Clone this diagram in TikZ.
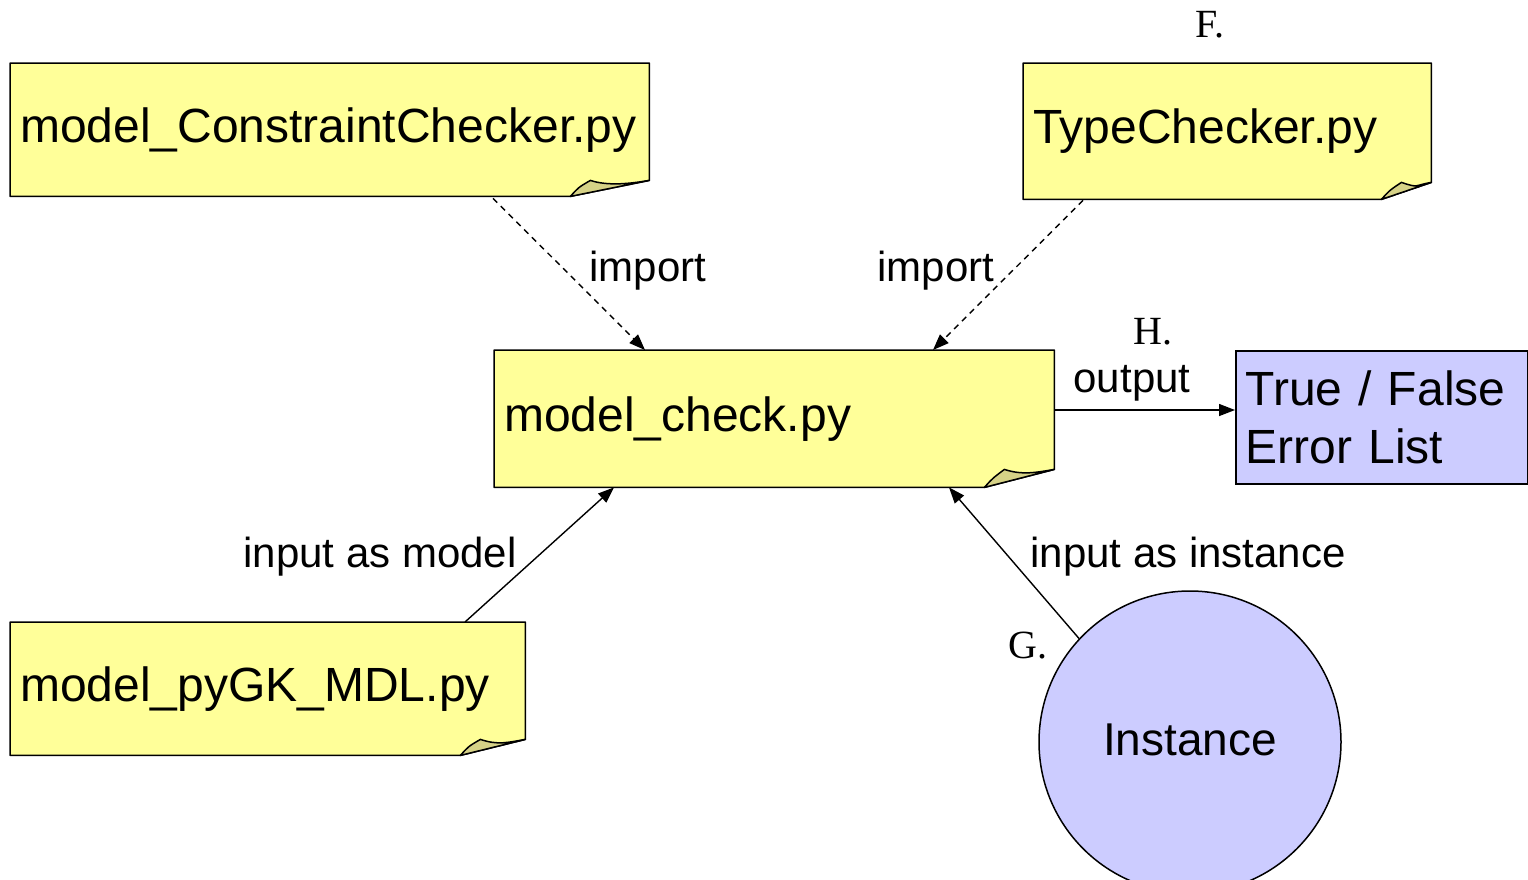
\documentclass[tikz,border=0pt]{standalone}
\usepackage{fontspec}
\setmainfont{Liberation Sans}
\newfontfamily\serifL{Liberation Serif}
\usetikzlibrary{arrows.meta,backgrounds,calc}
\definecolor{noteyellow}{RGB}{255,255,153}
\definecolor{notefoldc}{RGB}{214,210,135}
\definecolor{lavender}{RGB}{204,204,255}
\tikzset{
  notetext/.style={anchor=north west, inner xsep=10pt, inner ysep=0pt, align=left,
    font=\fontsize{48}{58}\selectfont},
  noteline/.style={draw=black, line width=1.5pt, line join=round},
  lbl/.style={font=\fontsize{42}{50}\selectfont, inner sep=0pt},
  letter/.style={font=\serifL\fontsize{40}{48}\selectfont, inner sep=0pt},
  link/.style={line width=1.4pt, -{Triangle[length=16pt,width=12pt]}},
  dlink/.style={link, dash pattern=on 6pt off 5pt},
}
\newcommand\drawnote[3]{%
  \coordinate (#1-B) at ($(#1.south east)+(-#2,0)$);
  \coordinate (#1-R) at ($(#1.south east)+(0,-#3)$);
  \coordinate (#1-P) at ($(#1.south east)+(-#2+20,-#3)$);
  \draw[noteline, fill=noteyellow] (#1.north west) -- (#1.north east) -- (#1-R) -- (#1-B) -- (#1.south west) -- cycle;
  \draw[noteline, fill=notefoldc] (#1-B) .. controls ($(#1-B)+(8,-9)$) .. (#1-P)
    .. controls ($(#1-P)+(18,6)$) and ($(#1-R)+(-18,3)$) .. (#1-R) -- cycle;
}
\begin{document}
\begin{tikzpicture}[x=1pt,y=-1pt]
\useasboundingbox (0,0) rectangle (1528,879);

\node[notetext, text width=619pt, minimum height=133pt] (cc) at (10,63) {model\_ConstraintChecker.py};
\node[notetext, text width=388pt, minimum height=136pt] (tc) at (1023,63) {TypeChecker.py};
\node[notetext, text width=540pt, minimum height=137pt] (mc) at (494,350) {model\_check.py};
\node[notetext, text width=495pt, minimum height=133pt] (gk) at (10,622) {model\_pyGK\_MDL.py};
\node[notetext, text width=272pt, minimum height=133pt, draw=black, line width=1.5pt, fill=lavender] (tf) at (1235,350) {True / False\\Error List};
\node[circle, draw=black, line width=1.5pt, fill=lavender, minimum size=302pt, inner sep=0pt,
  font=\fontsize{46}{54}\selectfont] (inst) at (1190,742) {\raisebox{4pt}{Instance}};

\begin{scope}[on background layer]
  \drawnote{cc}{79}{16}
  \drawnote{tc}{50}{17}
  \drawnote{mc}{70}{18}
  \drawnote{gk}{65}{16}
\end{scope}

\draw[dlink] ($(cc.south west)+(483,2)$) -- ($(mc.north west)+(151,0)$);
\draw[dlink] ($(tc.south west)+(60,1)$) -- ($(mc.north west)+(439,0)$);
\draw[link] ($(gk.north west)+(455,0)$) -- ($(mc.south west)+(120,0)$);
\draw[link] (inst.137) -- ($(mc.south west)+(455,0)$);
\draw[link] ($(mc.north east)+(0,60)$) -- ($(tf.north west)+(0,60)$);

\node[lbl] (l1) at (648,271) {import};
\node[lbl] (l2) at (936,271) {import};
\node[lbl] (l3) at (1132,383) {output};
\node[lbl] (l4) at (380,557) {input as model};
\node[lbl] (l5) at (1188,557) {input as instance};
\node[letter] (lf) at (1210,25) {F.};
\node[letter] (lg) at (1028,646) {G.};
\node[letter] (lh) at (1153,332) {H.};
\end{tikzpicture}
\end{document}
